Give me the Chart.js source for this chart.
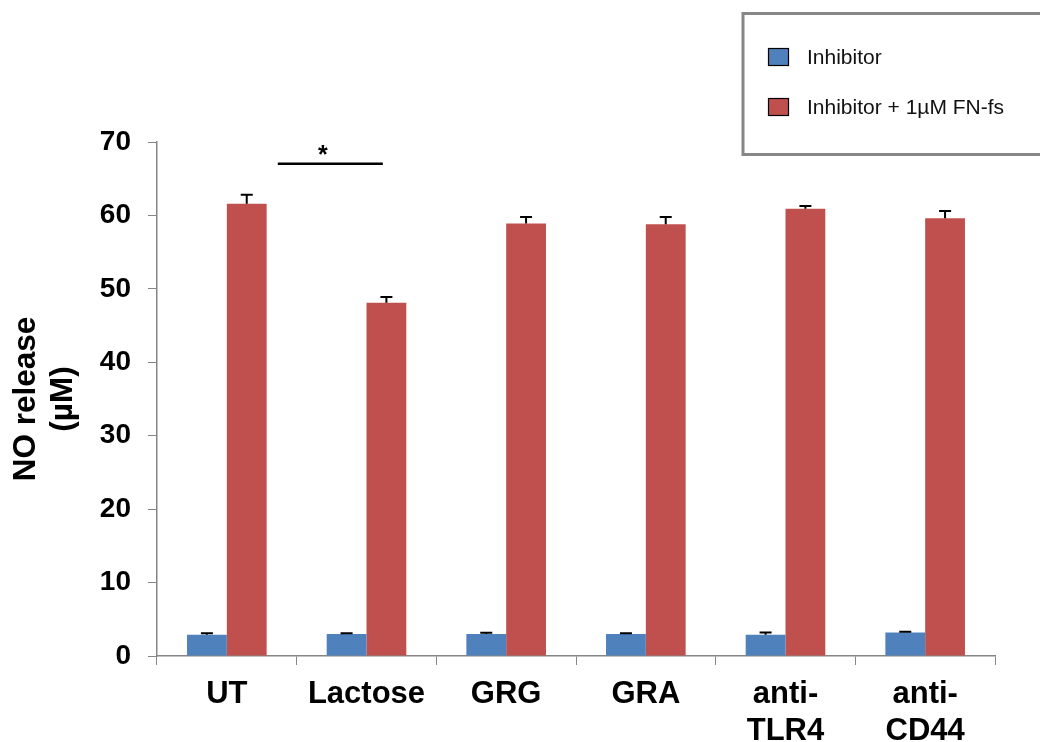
<!DOCTYPE html>
<html>
<head>
<meta charset="utf-8">
<script src="https://cdn.jsdelivr.net/npm/chart.js@4.4.0/dist/chart.umd.min.js"></script>
<style>
  html, body { margin: 0; padding: 0; background: #fff; }
  #wrap { width: 1040px; height: 742px; }
</style>
</head>
<body>
<div id="wrap"><canvas id="chart" width="1040" height="742"></canvas></div>
<script>
// values
const categories = ['UT', 'Lactose', 'GRG', 'GRA', ['anti-', 'TLR4'], ['anti-', 'CD44']];
const inhibitor = [2.9, 3.0, 3.0, 3.0, 2.9, 3.2];
const inhibitorErr = [0.2, 0.1, 0.15, 0.1, 0.3, 0.1];
const withFnfs = [61.6, 48.1, 58.9, 58.8, 60.9, 59.6];
const withFnfsErr = [1.2, 0.8, 0.9, 1.0, 0.4, 1.0];
const yTicks = [0, 10, 20, 30, 40, 50, 60, 70];
// significance bar (category index range, level) and star position
const sigRange = [0.365, 1.117];
const sigLevel = 67.05;
const sigStarAt = 0.687;

const FONT = "'Liberation Sans', Arial, sans-serif";
const BLUE = '#4F81BD';
const RED = '#C0504D';
const AXIS = '#868686';

const errorBars = {
    id: 'errorBars',
    afterDatasetsDraw(chart) {
        const ctx = chart.ctx;
        const y = chart.scales.y;
        chart.data.datasets.forEach((ds, i) => {
            const meta = chart.getDatasetMeta(i);
            meta.data.forEach((bar, j) => {
                const top = y.getPixelForValue(ds.data[j] + ds.errors[j]);
                const base = y.getPixelForValue(ds.data[j]);
                ctx.save();
                ctx.strokeStyle = '#000';
                ctx.lineWidth = 2;
                ctx.beginPath();
                ctx.moveTo(bar.x, base);
                ctx.lineTo(bar.x, top);
                ctx.moveTo(bar.x - 6, top);
                ctx.lineTo(bar.x + 6, top);
                ctx.stroke();
                ctx.restore();
            });
        });
    }
};

const significance = {
    id: 'significance',
    afterDraw(chart) {
        const ctx = chart.ctx;
        const x = chart.scales.x, y = chart.scales.y;
        const yl = y.getPixelForValue(sigLevel);
        ctx.save();
        ctx.strokeStyle = '#000';
        ctx.lineWidth = 2.5;
        ctx.beginPath();
        ctx.moveTo(x.getPixelForValue(sigRange[0]), yl);
        ctx.lineTo(x.getPixelForValue(sigRange[1]), yl);
        ctx.stroke();
        ctx.fillStyle = '#000';
        ctx.font = 'bold 25px ' + FONT;
        ctx.textAlign = 'center';
        ctx.textBaseline = 'alphabetic';
        ctx.fillText('*', x.getPixelForValue(sigStarAt), yl - 1);
        ctx.restore();
    }
};

const boxLegend = {
    id: 'boxLegend',
    afterDraw(chart) {
        const ctx = chart.ctx;
        ctx.save();
        ctx.strokeStyle = '#878787';
        ctx.lineWidth = 3;
        ctx.strokeRect(743, 13.5, 320, 141);
        ctx.font = '21px ' + FONT;
        ctx.textBaseline = 'middle';
        chart.data.datasets.forEach((ds, i) => {
            const cy = 57 + i * 50;
            ctx.fillStyle = ds.backgroundColor;
            ctx.fillRect(768.5, cy - 8.5, 20, 17);
            ctx.strokeStyle = '#000';
            ctx.lineWidth = 1.2;
            ctx.strokeRect(768.5, cy - 8.5, 20, 17);
            ctx.fillStyle = '#111';
            ctx.fillText(ds.label, 807, cy + 1);
        });
        ctx.restore();
    }
};

new Chart(document.getElementById('chart'), {
    type: 'bar',
    data: {
        labels: categories,
        datasets: [
            { label: 'Inhibitor', data: inhibitor, errors: inhibitorErr, backgroundColor: BLUE },
            { label: 'Inhibitor + 1\u00b5M FN-fs', data: withFnfs, errors: withFnfsErr, backgroundColor: RED }
        ]
    },
    options: {
        responsive: false,
        animation: false,
        categoryPercentage: 0.57,
        barPercentage: 1.0,
        layout: { padding: { top: 142, right: 45, left: 0, bottom: 0 } },
        plugins: { legend: { display: false }, tooltip: { enabled: false } },
        scales: {
            x: {
                grid: { drawOnChartArea: false, drawTicks: true, tickLength: 9, color: AXIS, offset: true },
                border: { color: AXIS, width: 1.5 },
                ticks: {
                    color: '#000',
                    font: { family: FONT, size: 31, weight: 'bold', lineHeight: 1.2 },
                    padding: 11,
                    maxRotation: 0,
                    autoSkip: false
                },
                afterFit(scale) { scale.height = 86; }
            },
            y: {
                min: 0,
                max: 70,
                afterBuildTicks(scale) { scale.ticks = yTicks.map(v => ({ value: v })); },
                grid: { drawOnChartArea: false, drawTicks: true, tickLength: 9, color: AXIS },
                border: { color: AXIS, width: 1.5 },
                ticks: {
                    color: '#000',
                    font: { family: FONT, size: 28, weight: 'bold' },
                    padding: 17
                },
                title: {
                    display: true,
                    text: ['NO release', '(\u00b5M)'],
                    color: '#000',
                    font: { family: FONT, size: 31.5, weight: 'bold', lineHeight: 1.2 },
                    padding: { top: 7, bottom: 0 }
                },
                afterFit(scale) { scale.width = 157; }
            }
        }
    },
    plugins: [errorBars, significance, boxLegend]
});
</script>
</body>
</html>
